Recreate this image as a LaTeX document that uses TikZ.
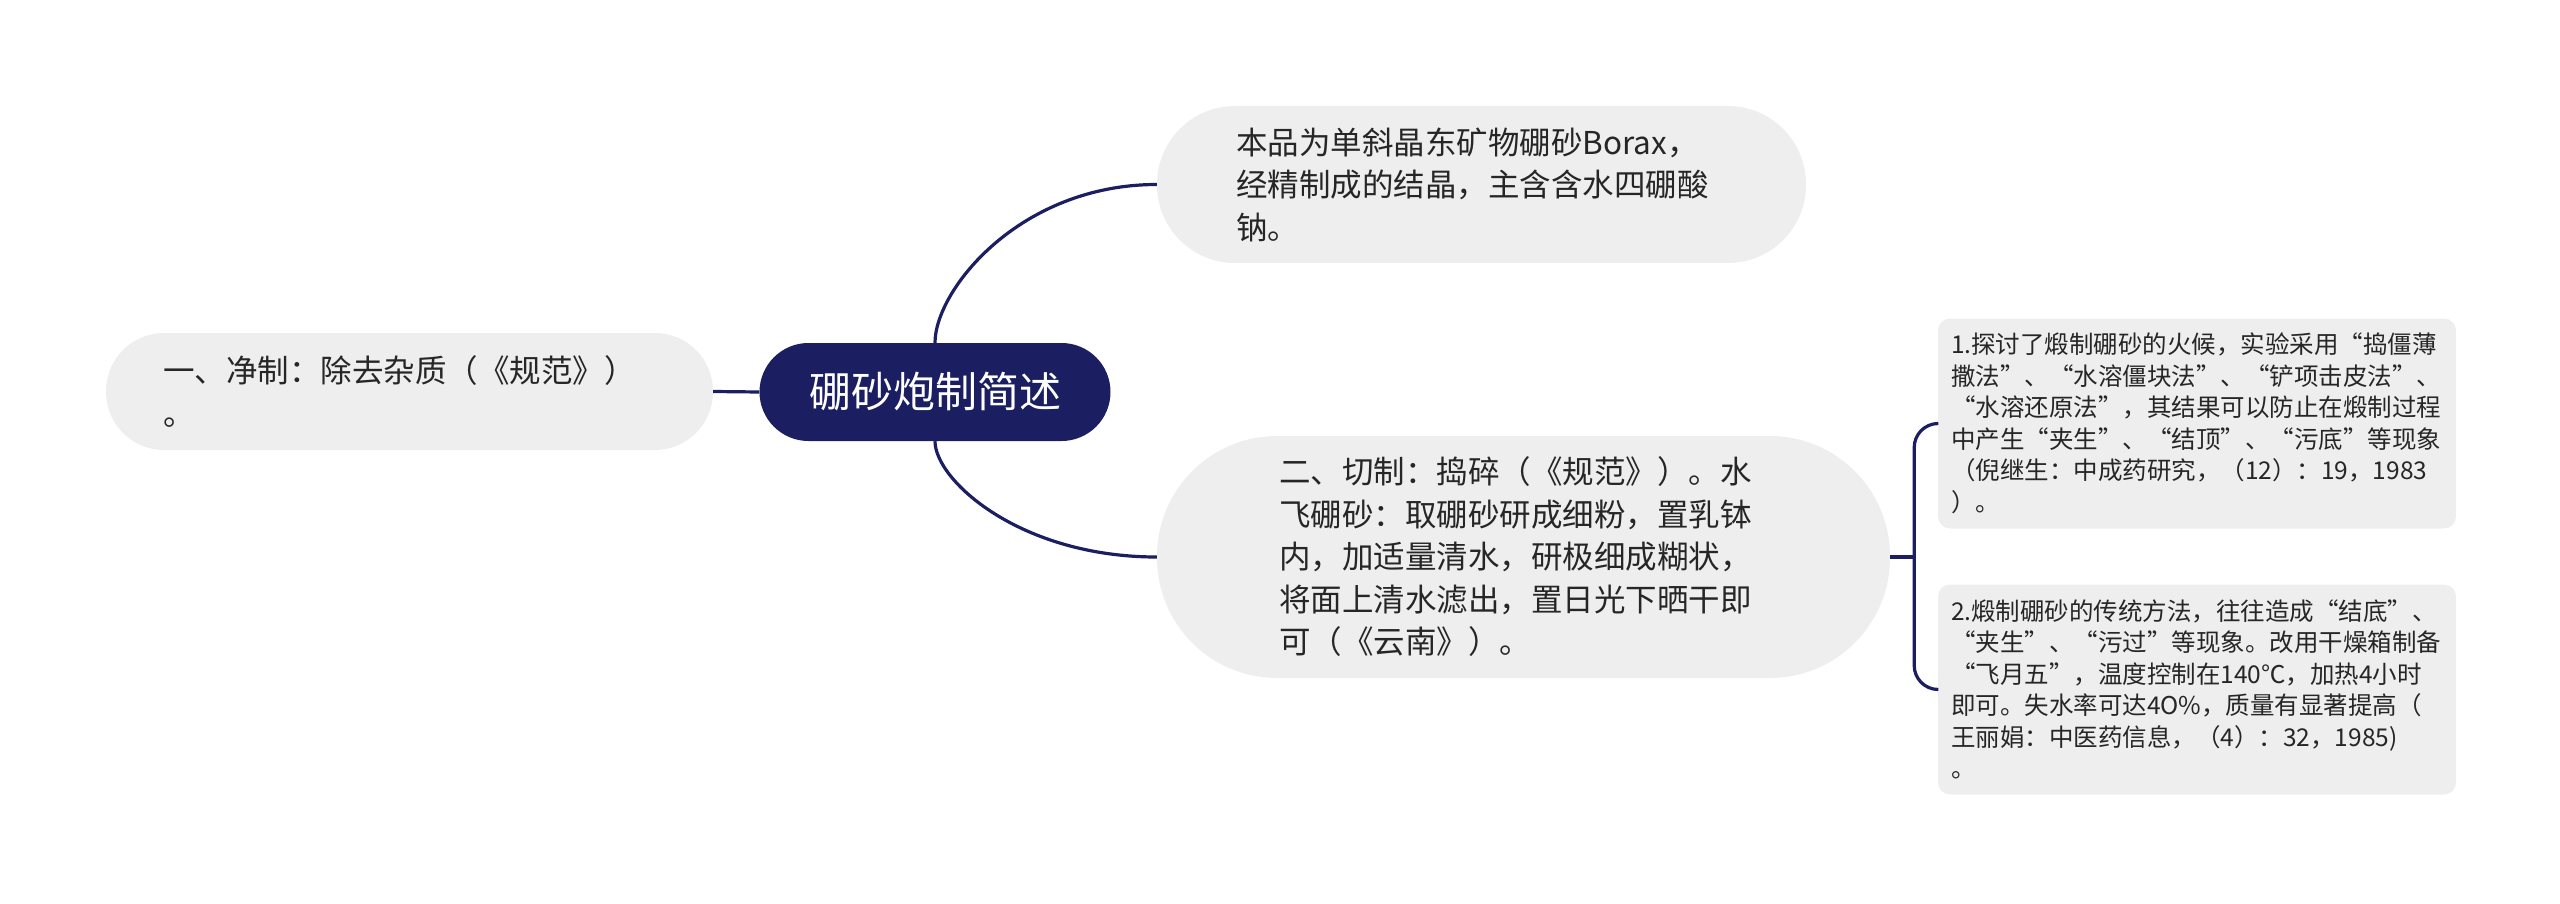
\documentclass[tikz,border=0pt]{standalone}
\usepackage{fontspec}
\setmainfont{Noto Sans CJK SC}
\usetikzlibrary{calc}
\definecolor{navy}{HTML}{1B1F61}
\definecolor{pill}{HTML}{EEEEEE}
\definecolor{ink}{HTML}{262626}
\newcommand{\zlq}{\makebox[1em][r]{“}}
\newcommand{\zrq}{\makebox[1em][l]{”}}
\begin{document}
\begin{tikzpicture}[x=1pt,y=-1pt,
  link/.style={draw=navy, line width=3.2pt},
  pillnode/.style={fill=pill, text=ink, align=left, inner ysep=0pt,
    font=\fontsize{31.5}{42.5}\selectfont},
  rootnode/.style={fill=navy, text=white, inner sep=0pt, minimum width=351pt,
    minimum height=98pt, rounded corners=49pt, font=\fontsize{42}{50}\selectfont},
  boxnode/.style={fill=pill, text=ink, align=left, inner ysep=0pt, inner xsep=13pt,
    text width=492pt, minimum width=518pt, minimum height=210pt, rounded corners=12pt,
    font=\fontsize{24.5}{31.5}\selectfont}]
\useasboundingbox (0,0) rectangle (2560,904);

\node[rootnode] (root) at (935,392) {硼砂炮制简述};

\node[pillnode, inner xsep=57pt, text width=493pt, minimum width=607pt,
  minimum height=117pt, rounded corners=58pt] (n1) at (409.5,391.5)
  {一、净制：除去杂质（《规范》）\\。};

\node[pillnode, inner xsep=79pt, text width=491pt, minimum width=649pt,
  minimum height=157pt, rounded corners=78pt] (n2) at (1481.5,184.5)
  {本品为单斜晶东矿物硼砂Borax，\\经精制成的结晶，主含含水四硼酸\\钠。};

\node[pillnode, inner xsep=122pt, text width=489pt, minimum width=733pt,
  minimum height=242pt, rounded corners=120pt] (n3) at (1523.5,557)
  {二、切制：捣碎（《规范》）。水\\飞硼砂：取硼砂研成细粉，置乳钵\\内，加适量清水，研极细成糊状，\\将面上清水滤出，置日光下晒干即\\可（《云南》）。};

\node[boxnode] (b1) at (2197,423.5)
  {1.探讨了煅制硼砂的火候，实验采用\zlq 捣僵薄\\撒法\zrq 、\zlq 水溶僵块法\zrq 、\zlq 铲项击皮法\zrq 、\\\zlq 水溶还原法\zrq ，其结果可以防止在煅制过程\\中产生\zlq 夹生\zrq 、\zlq 结顶\zrq 、\zlq 污底\zrq 等现象\\（倪继生：中成药研究，（12）：19，1983\\）。};

\node[boxnode] (b2) at (2197,689.5)
  {2.煅制硼砂的传统方法，往往造成\zlq 结底\zrq 、\\\zlq 夹生\zrq 、\zlq 污过\zrq 等现象。改用干燥箱制备\\\zlq 飞月五\zrq ，温度控制在140℃，加热4小时\\即可。失水率可达4O\%，质量有显著提高（\\王丽娟：中医药信息，（4）：32，1985)\\。};

\draw[link] (root.west) -- (n1.east);
\draw[link] (root.north) .. controls ($(root.north)+(0,-53)$) and ($(n2.west)+(-137,0)$) .. (n2.west);
\draw[link] (root.south) .. controls ($(root.south)+(0,39)$) and ($(n3.west)+(-137,0)$) .. (n3.west);

\coordinate (j) at ($(n3.east)+(24,0)$);
\draw[link] (n3.east) -- (j);
\draw[link, rounded corners=24pt] (j) |- (b1.west);
\draw[link, rounded corners=24pt] (j) |- (b2.west);
\end{tikzpicture}
\end{document}
